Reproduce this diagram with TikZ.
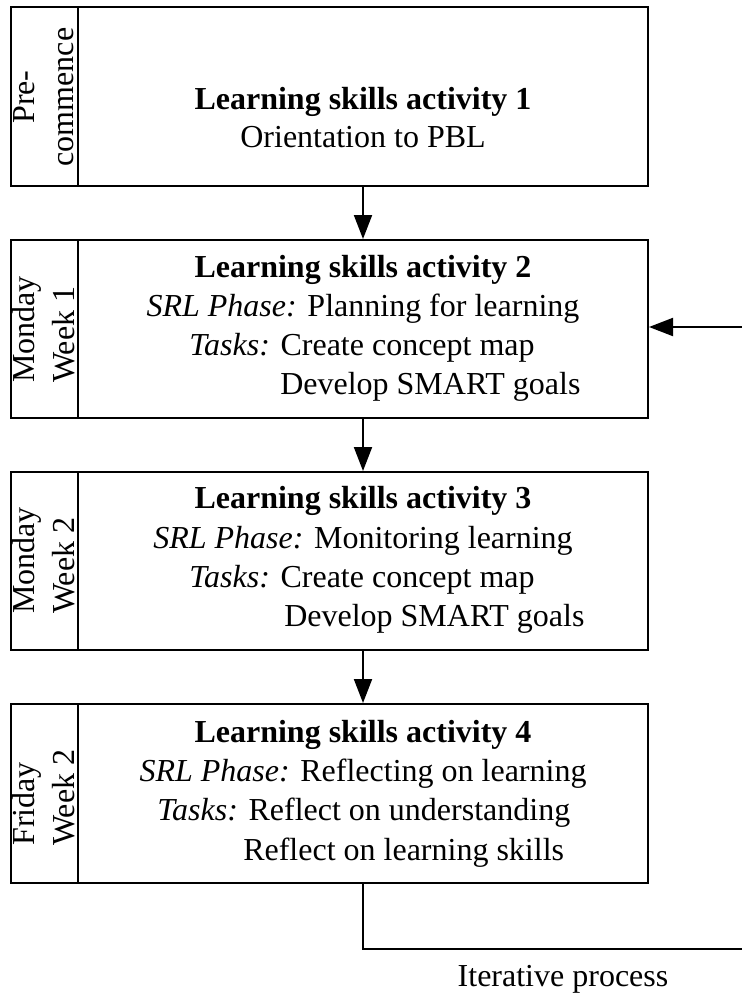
\documentclass[tikz,border=0pt]{standalone}
\usepackage{fontspec}
\setmainfont{Liberation Serif}
\usetikzlibrary{arrows.meta}
\begin{document}
\begin{tikzpicture}[x=0.75pt,y=-0.75pt,
  cell/.style={draw=black,line width=1.5pt,inner sep=0pt,minimum width=#1*0.75pt},
  txt/.style={inner sep=0pt,anchor=base,font=\fontsize{24}{29}\selectfont},
  ltxt/.style={inner sep=0pt,anchor=base west,font=\fontsize{24}{29}\selectfont},
  vtxt/.style={inner sep=0pt,rotate=90,font=\fontsize{24}{29}\selectfont},
  arr/.style={line width=1.5pt,-{Triangle[length=18pt,width=13.5pt]}},
  conn/.style={line width=1.5pt}]
\useasboundingbox (0,0) rectangle (742,996);
% boxes: label cells and content cells
\node[cell=67,minimum height=179*0.75pt] (l1) at (44.5,96.5) {};
\node[cell=570,minimum height=179*0.75pt] (c1) at (363,96.5) {};
\node[cell=67,minimum height=178*0.75pt] (l2) at (44.5,329) {};
\node[cell=570,minimum height=178*0.75pt] (c2) at (363,329) {};
\node[cell=67,minimum height=178*0.75pt] (l3) at (44.5,561) {};
\node[cell=570,minimum height=178*0.75pt] (c3) at (363,561) {};
\node[cell=67,minimum height=179*0.75pt] (l4) at (44.5,793.5) {};
\node[cell=570,minimum height=179*0.75pt] (c4) at (363,793.5) {};
% vertical labels
\node[vtxt,anchor=base] (p1a) at (34,97) {Pre-};
\node[vtxt,anchor=base] (p1b) at (73,97) {commence};
\node[vtxt,anchor=base west] (p2a) at (34,383) {Monday};
\node[vtxt,anchor=base west] (p2b) at (74,383) {Week 1};
\node[vtxt,anchor=base west] (p3a) at (34,614) {Monday};
\node[vtxt,anchor=base west] (p3b) at (74,614) {Week 2};
\node[vtxt,anchor=base west] (p4a) at (34,846) {Friday};
\node[vtxt,anchor=base west] (p4b) at (74,846) {Week 2};
% box 1 text
\node[txt] (t1a) at (363,109) {\textbf{Learning skills activity 1}};
\node[txt] (t1b) at (363,147) {Orientation to PBL};
% box 2 text
\node[txt] (t2a) at (363,277) {\textbf{Learning skills activity 2}};
\node[txt] (t2b) at (363,316) {\textit{SRL Phase:} Planning for learning};
\node[ltxt] (t2c) at (189,355) {\textit{Tasks:} Create concept map};
\node[ltxt] (t2d) at (280,394) {Develop SMART goals};
% box 3 text
\node[txt] (t3a) at (363,508) {\textbf{Learning skills activity 3}};
\node[txt] (t3b) at (363,548) {\textit{SRL Phase:} Monitoring learning};
\node[ltxt] (t3c) at (189,587) {\textit{Tasks:} Create concept map};
\node[ltxt] (t3d) at (284,626) {Develop SMART goals};
% box 4 text
\node[txt] (t4a) at (363,742) {\textbf{Learning skills activity 4}};
\node[txt] (t4b) at (363,781) {\textit{SRL Phase:} Reflecting on learning};
\node[ltxt] (t4c) at (157,820) {\textit{Tasks:} Reflect on understanding};
\node[ltxt] (t4d) at (243,860) {Reflect on learning skills};
% connectors
\draw[arr] (c1.south) -- (c2.north);
\draw[arr] (c2.south) -- (c3.north);
\draw[arr] (c3.south) -- (c4.north);
\coordinate (rin) at (742,327);
\draw[arr] (rin) -- (rin -| c2.east);
\coordinate (iterend) at (742,949);
\draw[conn] (c4.south) |- (iterend);
\node[txt] (iter) at (563,986) {Iterative process};
\end{tikzpicture}
\end{document}
